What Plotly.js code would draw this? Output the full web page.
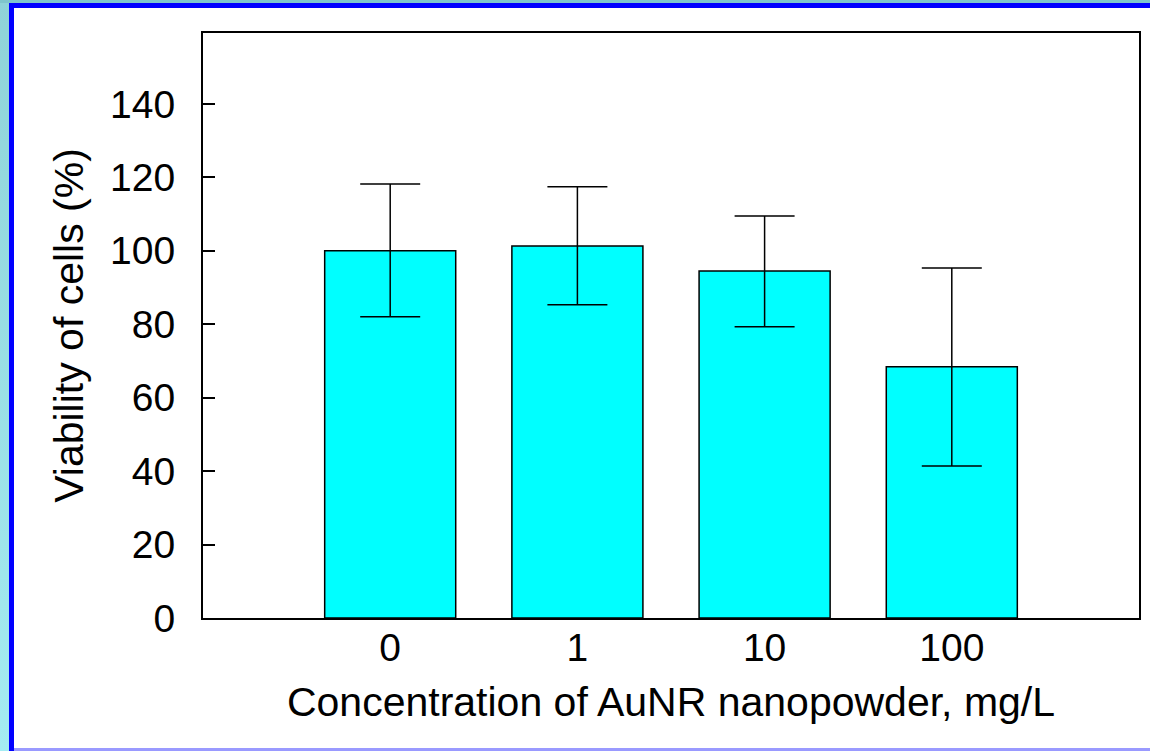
<!DOCTYPE html>
<html>
<head>
<meta charset="utf-8">
<script src="https://cdn.plot.ly/plotly-3.0.1.min.js"></script>
<style>
  html, body { margin: 0; padding: 0; width: 1150px; height: 751px; overflow: hidden; background: #fff; }
  #chart { position: absolute; left: 0; top: 0; width: 1150px; height: 751px; }
  .frame { position: absolute; pointer-events: none; }
</style>
</head>
<body>
<div id="chart"></div>
<div class="frame" style="left:0;top:0;width:9px;height:751px;background:linear-gradient(#8fd3d8,#a4ecf2);"></div>
<div class="frame" style="left:0;top:0;width:1150px;height:3px;background:#7fc6cc;"></div>
<div class="frame" style="left:9px;top:3px;width:1141px;height:5px;background:#0000ff;"></div>
<div class="frame" style="left:9px;top:3px;width:5px;height:748px;background:#0000ff;"></div>
<div class="frame" style="left:14px;top:748px;width:1136px;height:3px;background:#9a9aff;"></div>
<script>
const categories = ['0', '1', '10', '100'];
const viability = [100.0, 101.3, 94.5, 68.4];
const errUpper = [18.2, 16.1, 15.0, 26.9];
const errLower = [18.0, 16.0, 15.2, 27.0];
const yTicks = [0, 20, 40, 60, 80, 100, 120, 140];

const font = 'Liberation Sans, Arial, sans-serif';

const trace = {
  type: 'bar',
  x: categories,
  y: viability,
  width: 0.7,
  marker: { color: '#00ffff', line: { color: '#000000', width: 1.5 } },
  error_y: {
    type: 'data', symmetric: false,
    array: errUpper, arrayminus: errLower,
    color: '#000000', thickness: 1.5, width: 30
  },
  hoverinfo: 'none'
};

const layout = {
  width: 1150, height: 751,
  margin: { l: 203, r: 11, t: 33, b: 133 },
  paper_bgcolor: '#ffffff', plot_bgcolor: '#ffffff',
  showlegend: false,
  font: { family: font, color: '#000000' },
  xaxis: {
    type: 'category', range: [-1, 4],
    showline: true, mirror: true, linecolor: '#000000', linewidth: 2,
    ticks: '', showgrid: false, zeroline: false,
    tickfont: { size: 39, family: font, color: '#000' },
    ticklabelstandoff: -6,
    title: { text: 'Concentration of AuNR nanopowder, mg/L', font: { size: 41, family: font, color: '#000' }, standoff: 20 }
  },
  yaxis: {
    range: [0, 159.3],
    tickvals: yTicks, ticktext: yTicks.map(String),
    showline: true, mirror: true, linecolor: '#000000', linewidth: 2,
    ticks: 'inside', ticklen: 12, tickwidth: 2, tickcolor: '#000',
    showgrid: false, zeroline: false,
    tickfont: { size: 39, family: font, color: '#000' },
    ticklabelstandoff: 18,
    title: { text: 'Viability of cells (%)', font: { size: 41, family: font, color: '#000' }, standoff: 14 }
  }
};

Plotly.newPlot('chart', [trace], layout, { displayModeBar: false, staticPlot: true });
</script>
</body>
</html>
